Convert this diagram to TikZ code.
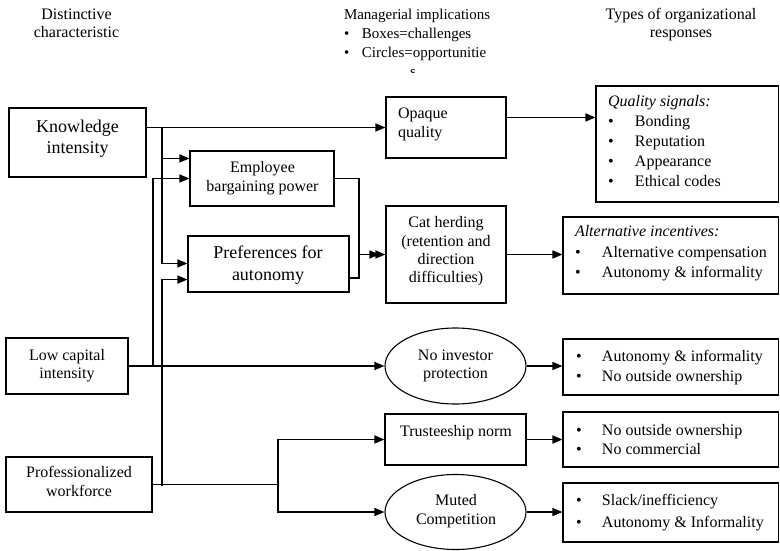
\documentclass[tikz,border=0pt]{standalone}
\usepackage{fontspec}
\setmainfont{Liberation Serif}
\usetikzlibrary{arrows.meta,calc,shapes.geometric}
\newcommand{\fs}[2]{\fontsize{#1}{#2}\selectfont}
\newcommand{\tl}[2]{\begin{tabular}[t]{@{}#1@{}}#2\end{tabular}}
\newcommand{\bul}[1]{\makebox[#1][l]{\textbullet}}
\begin{document}
\begin{tikzpicture}[x=1pt,y=-1pt,
  bx/.style={draw, line width=1.1pt, rectangle, inner sep=0pt},
  el/.style={draw, line width=1.1pt, ellipse, inner sep=0pt},
  tx/.style={inner sep=0pt, outer sep=0pt},
  arr/.style={line width=1.5pt, -{Triangle[length=10pt,width=8pt]}},
  ln/.style={line width=1.5pt}]
\useasboundingbox (0,0) rectangle (780,550);
\fill[white] (0,0) rectangle (780,550);
% boxes
\node[bx, minimum width=137pt, minimum height=69pt] (ki) at (77.5,142.5) {};
\node[bx, minimum width=144pt, minimum height=55pt] (ebp) at (262,178.5) {};
\node[bx, minimum width=161pt, minimum height=56pt] (pref) at (268.5,264) {};
\node[bx, minimum width=120pt, minimum height=61pt] (oq) at (446,127.5) {};
\node[bx, minimum width=182.5pt, minimum height=116pt] (qs) at (687.25,144) {};
\node[bx, minimum width=120pt, minimum height=97pt] (cat) at (446,254.5) {};
\node[bx, minimum width=215.5pt, minimum height=77pt] (alt) at (670.75,255.5) {};
\node[bx, minimum width=122pt, minimum height=56pt] (lci) at (67,366) {};
\node[bx, minimum width=146pt, minimum height=55pt] (prof) at (79,484.5) {};
\node[el, minimum width=141pt, minimum height=76pt] (nip) at (455.5,366) {};
\node[bx, minimum width=215.5pt, minimum height=56pt] (r3) at (670.75,367) {};
\node[bx, minimum width=141pt, minimum height=51pt] (trust) at (455.5,439.5) {};
\node[bx, minimum width=215.5pt, minimum height=55pt] (r4) at (670.75,439.5) {};
\node[el, minimum width=141pt, minimum height=75pt] (muted) at (455.5,512) {};
\node[bx, minimum width=215.5pt, minimum height=59pt] (r5) at (670.75,512.5) {};
% connectors
\draw[arr] (ki.east |- oq.west) -- (oq.west);
\coordinate (j1) at (162,127.5);
\draw[arr] (j1) |- ($(ebp.north west)+(0,8)$);
\draw[arr] (j1) |- ($(pref.north west)+(0,28)$);
\coordinate (j2) at (153,366);
\draw[arr] (j2) |- (ebp.west);
\draw[arr] (lci.east) -- (nip.west);
\coordinate (j3) at (278,484.5);
\draw[ln] (prof.east) -- (j3);
\draw[arr] (j3) |- (trust.west);
\draw[arr] (j3) |- (muted.west);
\coordinate (j4) at (162,486);
\draw[arr] (j4) |- ($(pref.south west)+(0,-13)$);
\coordinate (j5) at (359,254.5);
\draw[arr] (ebp.east) -| (j5) -- (cat.west);
\draw[arr] ($(pref.east)+(0,14)$) -| (j5) -- ($(cat.west)+(-6,0)$);
\draw[arr] ($(oq.north east)+(0,21)$) -- ($(qs.north west)+(0,32)$);
\draw[arr] (cat.east) -- (cat.east -| alt.west);
\draw[arr] (nip.east) -- (nip.east -| r3.west);
\draw[arr] (trust.east) -- (r4.west);
\draw[arr] (muted.east) -- (muted.east -| r5.west);
% headers
\node[tx, anchor=base, font=\fs{16}{18}] (h1) at (76.5,19) {\tl{c}{Distinctive\\characteristic}};
\node[tx, anchor=base west, font=\fs{15}{19}] (h2) at (344,19) {\tl{l}{Managerial implications\\\bul{18pt}Boxes=challenges\\\bul{18pt}Circles=opportunitie}};
\begin{scope}
\clip (395,64) rectangle (440,72);
\node[tx, anchor=base west, font=\fs{15}{19}] (h2s) at (410,76) {s};
\end{scope}
\node[tx, anchor=base, font=\fs{16}{18}] (h3) at (681,19) {\tl{c}{Types of organizational\\responses}};
% texts
\node[tx, anchor=base, font=\fs{18}{21}] (kit) at (77.5,132) {\tl{c}{Knowledge\\intensity}};
\node[tx, anchor=base, font=\fs{16}{18.3}] (ebpt) at (262.5,172.7) {\tl{c}{Employee\\bargaining power}};
\node[tx, anchor=base, font=\fs{18}{22}] (preft) at (268,258) {\tl{c}{Preferences for\\autonomy}};
\node[tx, anchor=base west, font=\fs{16}{19}] (oqt) at (398,118) {\tl{l}{Opaque\\quality}};
\node[tx, anchor=base west, font=\fs{16}{20}] (qst) at (608,106) {\tl{l}{\textit{Quality signals:}\\\bul{27pt}Bonding\\\bul{27pt}Reputation\\\bul{27pt}Appearance\\\bul{27pt}Ethical codes}};
\node[tx, anchor=base, font=\fs{16}{18.3}] (catt) at (446,227.7) {\tl{c}{Cat herding\\(retention and\\direction\\difficulties)}};
\node[tx, anchor=base west, font=\fs{16}{20.3}] (altt) at (575,236.7) {\tl{l}{\textit{Alternative incentives:}\\\bul{27pt}Alternative compensation\\\bul{27pt}Autonomy \& informality}};
\node[tx, anchor=base, font=\fs{16}{18.5}] (lcit) at (67,360) {\tl{c}{Low capital\\intensity}};
\node[tx, anchor=base, font=\fs{16}{19}] (proft) at (79,477.7) {\tl{c}{Professionalized\\workforce}};
\node[tx, anchor=base, font=\fs{16}{18.7}] (nipt) at (455.5,360) {\tl{c}{No investor\\protection}};
\node[tx, anchor=base west, font=\fs{16}{20}] (r3t) at (576,361.7) {\tl{l}{\bul{26pt}Autonomy \& informality\\\bul{26pt}No outside ownership}};
\node[tx, anchor=base, font=\fs{16}{19}] (trustt) at (456,436.7) {Trusteeship norm};
\node[tx, anchor=base west, font=\fs{16}{19}] (r4t) at (576,435) {\tl{l}{\bul{26pt}No outside ownership\\\bul{26pt}No commercial}};
\node[tx, anchor=base, font=\fs{16}{19}] (mutedt) at (456,505) {\tl{c}{Muted\\Competition}};
\node[tx, anchor=base west, font=\fs{16}{22}] (r5t) at (576,505) {\tl{l}{\bul{26pt}Slack/inefficiency\\\bul{26pt}Autonomy \& Informality}};
\end{tikzpicture}
\end{document}
